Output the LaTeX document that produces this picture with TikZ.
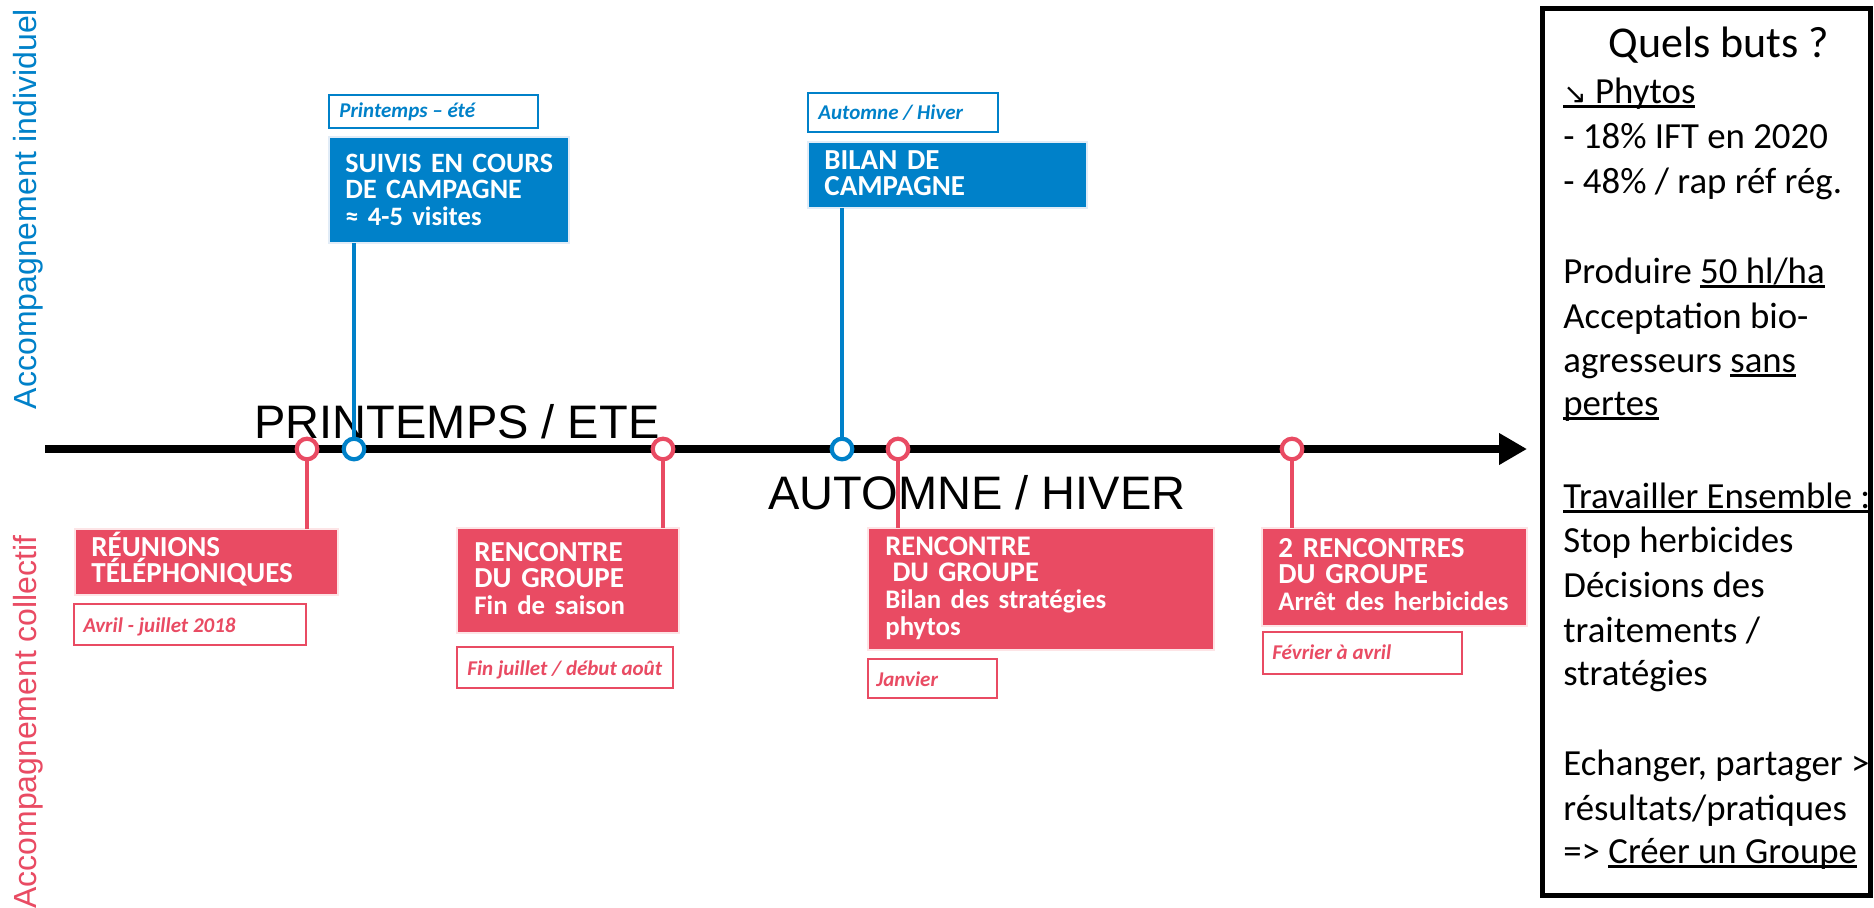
\documentclass[tikz,border=0pt]{standalone}
\usepackage{fontspec}
\setmainfont{Carlito}
\newfontfamily\arialf{Liberation Sans}
\newfontfamily\djv{DejaVu Sans}
\usetikzlibrary{arrows.meta}
\definecolor{cblue}{RGB}{0,129,201}
\definecolor{cred}{RGB}{233,75,99}
\definecolor{palered}{RGB}{253,228,230}
\definecolor{paleblue}{RGB}{225,236,247}
\newcommand\myul[1]{\sbox0{#1}\rlap{\rule[-0.13em]{\wd0}{0.065em}}\usebox0}
\newcommand\lc{\fontsize{13.4}{13.4}\selectfont}
\begin{document}
\begin{tikzpicture}[x=0.5pt,y=-0.5pt,
  fillbox/.style={rectangle, inner sep=0pt, outer sep=0pt, anchor=north west},
  bluebox/.style={fillbox, fill=cblue, draw=paleblue, line width=1pt},
  redbox/.style={fillbox, fill=cred, draw=palered, line width=1pt},
  bluelab/.style={fillbox, fill=white, draw=cblue, line width=1.3pt},
  redlab/.style={fillbox, fill=white, draw=cred, line width=1.3pt},
  boxtext/.style={anchor=base west, inner sep=0pt, text width=220pt, align=left, text=white, font=\fontsize{14.5}{13.4}\selectfont\bfseries},
  labtext/.style={anchor=base west, inner sep=0pt, font=\fontsize{10.5}{12}\selectfont\bfseries\itshape},
  bigtext/.style={anchor=base, inner sep=0pt, font=\arialf\fontsize{23.5}{23.5}\selectfont},
  sidetext/.style={rotate=90, inner sep=0pt, font=\arialf\fontsize{16}{16}\selectfont},
  goal/.style={anchor=base west, inner sep=0pt, font=\fontsize{18.4}{20}\selectfont},
  redline/.style={draw=cred, line width=1.6pt},
  blueline/.style={draw=cblue, line width=1.6pt},
  rdot/.style={circle, draw=cred, fill=white, line width=2.1pt, minimum size=10.3pt, inner sep=0pt},
  bdot/.style={circle, draw=cblue, fill=white, line width=2.1pt, minimum size=10.3pt, inner sep=0pt}
]
\useasboundingbox (0,0) rectangle (1874,907);
\fill[white] (0,0) rectangle (1874,907);

% side labels
\node[sidetext, text=cblue] (vt1) at (28,209) {Accompagnement individuel};
\node[sidetext, text=cred] (vt2) at (28,722) {Accompagnement collectif};

% timeline
\coordinate (tl0) at (45,449);
\coordinate (tl1) at (1527,449);
\draw[line width=3.8pt, -{Triangle[length=14pt,width=15pt]}] (tl0) -- (tl1);

% season texts
\node[bigtext] (pe) at (457,438) {PRINTEMPS / ETE};
\node[bigtext] (ah) at (977,509) {AUTOMNE / HIVER};

% blue boxes (top)
\node[bluelab, minimum width=104.5pt, minimum height=16.5pt] (b1l) at (329,95) {};
\node[labtext, text=cblue] (b1lt) at (339,117) {Printemps – été};
\node[bluebox, minimum width=120pt, minimum height=53pt] (b1) at (329,137) {};
\node[boxtext, font=\fontsize{14}{13.3}\selectfont\bfseries] (b1t) at (345,172) {SUIVIS EN COURS\\DE CAMPAGNE\\{\fontsize{13.3}{13.3}\selectfont ≈ 4-5 visites}};

\node[bluelab, minimum width=95pt, minimum height=19.5pt] (b2l) at (808,93) {};
\node[labtext, text=cblue] (b2lt) at (818,119) {Automne / Hiver};
\node[bluebox, minimum width=139.5pt, minimum height=33pt] (b2) at (808,142) {};
\node[boxtext] (b2t) at (824,169) {BILAN DE\\CAMPAGNE};

% red boxes (bottom)
\node[redbox, minimum width=131.5pt, minimum height=33pt] (r1) at (75,529) {};
\node[boxtext] (r1t) at (91,556) {RÉUNIONS\\TÉLÉPHONIQUES};
\node[redlab, minimum width=116pt, minimum height=20.5pt] (r1l) at (74,604) {};
\node[labtext, text=cred] (r1lt) at (83,632) {Avril - juillet 2018};

\node[redbox, minimum width=111pt, minimum height=52.5pt] (r2) at (457,528) {};
\node[boxtext] (r2t) at (474,561) {RENCONTRE\\DU GROUPE\\{\lc Fin de saison}};
\node[redlab, minimum width=108pt, minimum height=20.5pt] (r2l) at (457,647) {};
\node[labtext, text=cred] (r2lt) at (467,675) {Fin juillet / début août};

\node[redbox, minimum width=173pt, minimum height=61pt] (r3) at (868,528) {};
\node[boxtext, font=\fontsize{14.2}{13.4}\selectfont\bfseries] (r3t) at (885,555) {RENCONTRE\\\hspace*{0.25em}DU GROUPE\\{\lc Bilan des stratégies}\\{\lc phytos}};
\node[redlab, minimum width=64.5pt, minimum height=19.5pt] (r3l) at (868,659) {};
\node[labtext, text=cred] (r3lt) at (876,686) {Janvier};

\node[redbox, minimum width=132.5pt, minimum height=49pt] (r4) at (1262,528) {};
\node[boxtext] (r4t) at (1278,557) {2 RENCONTRES\\DU GROUPE\\{\lc Arrêt des herbicides}};
\node[redlab, minimum width=99.5pt, minimum height=21pt] (r4l) at (1263,632) {};
\node[labtext, text=cred] (r4lt) at (1272,659) {Février à avril};

% dots on timeline
\node[rdot] (c1) at (307,449) {};
\node[bdot] (c2) at (354,449) {};
\node[rdot] (c3) at (663,449) {};
\node[bdot] (c4) at (842,449) {};
\node[rdot] (c5) at (898,449) {};
\node[rdot] (c6) at (1292,449) {};

% connectors
\draw[blueline] (c2.north |- b1.south) -- (c2.north);
\draw[blueline] (c4.north |- b2.south) -- (c4.north);
\draw[redline] (c1.south) -- (c1.south |- r1.north);
\draw[redline] (c3.south) -- (c3.south |- r2.north);
\draw[redline] (c5.south) -- (c5.south |- r3.north);
\draw[redline] (c6.south) -- (c6.south |- r4.north);

% goals box
\node[fillbox, draw=black, line width=2.5pt, minimum width=164pt, minimum height=443.5pt] (goals) at (1542,8) {};
\node[goal, anchor=base, font=\fontsize{22}{24}\selectfont] (g1) at (1719,57) {Quels buts ?};
\node[goal] (g2) at (1563,103) {\myul{{\djv\fontsize{14}{14}\selectfont ↘} Phytos}};
\node[goal] (g3) at (1563,148) {- 18\% IFT en 2020};
\node[goal] (g4) at (1563,193) {- 48\% / rap réf rég.};
\node[goal] (g5) at (1563,283) {Produire \myul{50 hl/ha}};
\node[goal] (g6) at (1563,328) {Acceptation bio-};
\node[goal] (g7) at (1563,372) {agresseurs \myul{sans}};
\node[goal] (g8) at (1563,415) {\myul{pertes}};
\node[goal] (g9) at (1563,508) {\myul{Travailler Ensemble :}};
\node[goal] (g10) at (1563,552) {Stop herbicides};
\node[goal] (g11) at (1563,597) {Décisions des};
\node[goal] (g12) at (1563,642) {traitements /};
\node[goal] (g13) at (1563,685) {stratégies};
\node[goal] (g14) at (1563,775) {Echanger, partager >};
\node[goal] (g15) at (1563,820) {résultats/pratiques};
\node[goal] (g16) at (1563,863) {=> \myul{Créer un Groupe}};
\end{tikzpicture}
\end{document}
